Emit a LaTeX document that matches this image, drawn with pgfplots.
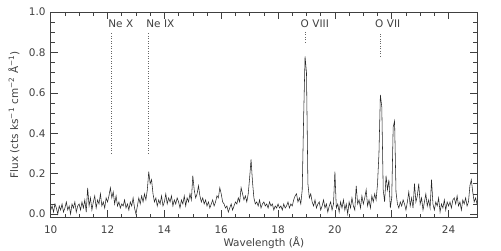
\documentclass[border=0pt]{standalone}
\usepackage{fontspec}
\setmainfont{DejaVu Sans}
\usepackage{pgfplots}
\pgfplotsset{compat=1.18}
\begin{document}
\begin{tikzpicture}
\fontsize{10.5}{12}\selectfont
\begin{axis}[
  at={(50.7bp,33.3bp)}, anchor=south west,
  scale only axis, width=426.3bp, height=205.7bp,
  xmin=10, xmax=25, ymin=-0.018, ymax=1.0,
  xtick={10,12,...,24}, minor x tick num=3,
  ytick={0,0.2,0.4,0.6,0.8,1.0}, minor y tick num=3,
  tick align=inside, major tick length=7.5bp, minor tick length=4bp,
  axis line style={black!75, line width=0.6bp},
  every tick/.style={black!75, line width=0.6bp},
  tick label style={black!75, font=\fontsize{10.5}{12}\selectfont},
  /pgf/number format/assume math mode=true,
  yticklabel style={/pgf/number format/fixed, /pgf/number format/fixed zerofill, /pgf/number format/precision=1, xshift=-1.5bp},
  xticklabel style={yshift=-4.5bp},
  xlabel={Wavelength (Å)},
  ylabel={Flux (cts ks\textsuperscript{−1} cm\textsuperscript{−2} Å\textsuperscript{−1})},
  xlabel style={at={(axis description cs:0.5,-0.1376)}, anchor=base, black!75},
  ylabel style={at={(axis description cs:-0.0861,0.5)}, anchor=center, black!75},
  clip=true,
]
\addplot[black!85, line width=0.55bp, sharp plot] coordinates {
(10.00,0.02)(10.05,0.04)(10.10,0.01)(10.15,0.05)(10.20,0.03)(10.25,0.00)(10.30,0.04)(10.35,0.02)(10.40,0.05)(10.45,0.01)(10.50,0.03)(10.55,0.06)(10.60,0.02)(10.65,0.04)(10.70,0.00)(10.75,0.05)(10.80,0.03)(10.85,0.06)(10.90,0.01)(10.95,0.04)
(11.00,0.05)(11.05,0.02)(11.10,0.06)(11.15,0.03)(11.20,0.07)(11.25,0.01)(11.30,0.13)(11.35,0.04)(11.40,0.08)(11.45,0.02)(11.50,0.06)(11.55,0.09)(11.60,0.03)(11.65,0.07)(11.70,0.05)(11.75,0.10)(11.80,0.04)(11.85,0.06)(11.90,0.03)(11.95,0.08)
(12.00,0.06)(12.05,0.09)(12.10,0.13)(12.15,0.08)(12.20,0.11)(12.25,0.05)(12.30,0.09)(12.35,0.04)(12.40,0.06)(12.45,0.03)(12.50,0.05)(12.55,0.04)(12.60,0.07)(12.65,0.03)(12.70,0.05)(12.75,0.02)(12.80,0.06)(12.85,0.04)(12.90,0.08)(12.95,0.03)
(13.00,0.00)(13.05,0.04)(13.10,0.08)(13.15,0.05)(13.20,0.09)(13.25,0.06)(13.30,0.10)(13.35,0.07)(13.40,0.12)(13.45,0.21)(13.50,0.15)(13.55,0.17)(13.60,0.10)(13.65,0.06)(13.70,0.08)(13.75,0.04)(13.80,0.07)(13.85,0.05)(13.90,0.09)(13.95,0.04)
(14.00,0.06)(14.05,0.10)(14.10,0.05)(14.15,0.08)(14.20,0.06)(14.25,0.09)(14.30,0.04)(14.35,0.07)(14.40,0.05)(14.45,0.08)(14.50,0.06)(14.55,0.03)(14.60,0.07)(14.65,0.05)(14.70,0.09)(14.75,0.04)(14.80,0.08)(14.85,0.06)(14.90,0.10)(14.95,0.07)
(15.00,0.19)(15.05,0.12)(15.10,0.08)(15.15,0.10)(15.20,0.14)(15.25,0.09)(15.30,0.06)(15.35,0.08)(15.40,0.05)(15.45,0.07)(15.50,0.04)(15.55,0.06)(15.60,0.03)(15.65,0.05)(15.70,0.07)(15.75,0.04)(15.80,0.06)(15.85,0.09)(15.90,0.08)(15.95,0.13)
(16.00,0.10)(16.05,0.06)(16.10,0.05)(16.15,0.03)(16.20,0.04)(16.25,0.01)(16.30,0.03)(16.35,0.05)(16.40,0.02)(16.45,0.04)(16.50,0.06)(16.55,0.05)(16.60,0.08)(16.65,0.06)(16.70,0.13)(16.75,0.10)(16.80,0.07)(16.85,0.09)(16.90,0.06)(16.95,0.10)
(17.00,0.18)(17.05,0.27)(17.10,0.16)(17.15,0.08)(17.20,0.05)(17.25,0.06)(17.30,0.04)(17.35,0.07)(17.40,0.03)(17.45,0.05)(17.50,0.06)(17.55,0.04)(17.60,0.05)(17.65,0.03)(17.70,0.06)(17.75,0.04)(17.80,0.05)(17.85,0.02)(17.90,0.04)(17.95,0.03)
(18.00,0.05)(18.05,0.03)(18.10,0.04)(18.15,0.02)(18.20,0.05)(18.25,0.03)(18.30,0.04)(18.35,0.06)(18.40,0.03)(18.45,0.05)(18.50,0.04)(18.55,0.07)(18.60,0.09)(18.65,0.10)(18.70,0.06)(18.75,0.08)(18.80,0.05)(18.85,0.12)(18.90,0.48)(18.95,0.78)
(19.00,0.70)(19.05,0.15)(19.10,0.08)(19.15,0.10)(19.20,0.06)(19.25,0.04)(19.30,0.07)(19.35,0.03)(19.40,0.05)(19.45,0.06)(19.50,0.02)(19.55,0.04)(19.60,0.07)(19.65,0.03)(19.70,0.05)(19.75,0.01)(19.80,0.04)(19.85,0.06)(19.90,0.02)(19.95,0.05)
(20.00,0.21)(20.05,0.03)(20.10,0.05)(20.15,0.01)(20.20,0.06)(20.25,0.03)(20.30,0.07)(20.35,0.02)(20.40,0.05)(20.45,0.00)(20.50,0.06)(20.55,0.03)(20.60,0.08)(20.65,0.04)(20.70,0.02)(20.75,0.14)(20.80,0.05)(20.85,0.07)(20.90,0.03)(20.95,0.09)
(21.00,0.05)(21.05,0.08)(21.10,0.12)(21.15,0.04)(21.20,0.07)(21.25,0.03)(21.30,0.09)(21.35,0.06)(21.40,0.10)(21.45,0.07)(21.50,0.15)(21.55,0.30)(21.60,0.59)(21.65,0.53)(21.70,0.12)(21.75,0.06)(21.80,0.19)(21.85,0.12)(21.90,0.17)(21.95,0.03)
(22.00,0.08)(22.05,0.43)(22.10,0.46)(22.15,0.11)(22.20,0.05)(22.25,0.03)(22.30,0.06)(22.35,0.04)(22.40,0.07)(22.45,0.05)(22.50,0.02)(22.55,0.06)(22.60,0.11)(22.65,0.04)(22.70,0.08)(22.75,0.03)(22.80,0.15)(22.85,0.06)(22.90,0.09)(22.95,0.15)
(23.00,0.05)(23.05,0.08)(23.10,0.02)(23.15,0.06)(23.20,0.10)(23.25,0.04)(23.30,0.07)(23.35,0.03)(23.40,0.17)(23.45,0.05)(23.50,0.02)(23.55,0.06)(23.60,0.04)(23.65,0.08)(23.70,0.01)(23.75,0.05)(23.80,0.03)(23.85,0.07)(23.90,0.02)(23.95,0.06)
(24.00,0.04)(24.05,0.06)(24.10,0.03)(24.15,0.07)(24.20,0.08)(24.25,0.05)(24.30,0.09)(24.35,0.04)(24.40,0.06)(24.45,0.02)(24.50,0.07)(24.55,0.05)(24.60,0.08)(24.65,0.04)(24.70,0.06)(24.75,0.14)(24.80,0.17)(24.85,0.11)(24.90,0.06)(24.95,0.08)(25.00,0.05)
};
\draw[black!60, dotted, line width=0.5bp] (axis cs:12.13,0.30) -- (axis cs:12.13,0.90);
\draw[black!60, dotted, line width=0.5bp] (axis cs:13.45,0.30) -- (axis cs:13.45,0.90);
\draw[black!60, dotted, line width=0.5bp] (axis cs:18.97,0.85) -- (axis cs:18.97,0.90);
\draw[black!60, dotted, line width=0.5bp] (axis cs:21.61,0.78) -- (axis cs:21.61,0.90);
\node[anchor=base west, inner sep=0pt, black!75] at (axis cs:12.02,0.925) {Ne\,\,X};
\node[anchor=base west, inner sep=0pt, black!75] at (axis cs:13.36,0.925) {Ne\,\,IX};
\node[anchor=base west, inner sep=0pt, black!75] at (axis cs:18.79,0.925) {O\,\,VIII};
\node[anchor=base west, inner sep=0pt, black!75] at (axis cs:21.41,0.925) {O\,\,VII};
\end{axis}
\pgfresetboundingbox
\useasboundingbox (0,0) rectangle (501bp,251bp);
\end{tikzpicture}
\end{document}
